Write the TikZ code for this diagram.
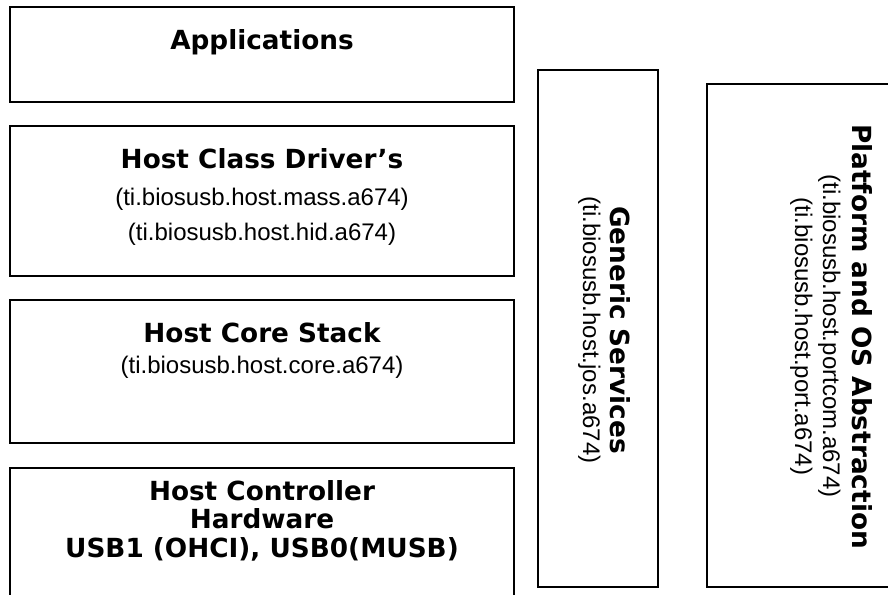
\documentclass[tikz,border=0pt]{standalone}
\usepackage{fontspec}
\setmainfont{Liberation Sans}
\newfontfamily\hfont{DejaVu Sans}
\begin{document}
\begin{tikzpicture}[x=1pt,y=-1pt,
  box/.style={draw, line width=1.8pt, inner sep=0pt, outer sep=0pt, anchor=north west},
  head/.style={font=\hfont\bfseries\fontsize{26.3}{28}\selectfont, anchor=base, inner sep=0pt},
  sub/.style={font=\fontsize{24}{28}\selectfont, anchor=base, inner sep=0pt}]
\useasboundingbox (0,0) rectangle (888,594);
\clip (0,0) rectangle (888,594);
% boxes
\node[box, minimum width=504pt, minimum height=95pt] (app) at (10,7) {};
\node[box, minimum width=504pt, minimum height=150pt] (cls) at (10,126) {};
\node[box, minimum width=504pt, minimum height=143pt] (core) at (10,300) {};
\node[box, minimum width=504pt, minimum height=140pt] (hw) at (10,468) {};
\node[box, minimum width=120pt, minimum height=517pt] (gen) at (538,70) {};
\node[box, minimum width=200pt, minimum height=503pt] (plat) at (707,84) {};
% texts
\node[head] (tapp) at (262,50) {Applications};
\node[head] (tcls) at (262,168) {Host Class Driver’s};
\node[sub] (tmass) at (262,205) {(ti.biosusb.host.mass.a674)};
\node[sub] (thid) at (262,240) {(ti.biosusb.host.hid.a674)};
\node[head] (tcore) at (262,342) {Host Core Stack};
\node[sub] (tcorep) at (262,373) {(ti.biosusb.host.core.a674)};
\node[head] (thw1) at (262,500) {Host Controller};
\node[head] (thw2) at (262,528) {Hardware};
\node[head] (thw3) at (262,557) {USB1 (OHCI), USB0(MUSB)};
\node[head, rotate=-90] (tgen) at (610,330) {Generic Services};
\node[sub, rotate=-90] (tgenp) at (583,330) {(ti.biosusb.host.jos.a674)};
\node[head, rotate=-90] (tplat) at (852,336.5) {Platform and OS Abstraction};
\node[sub, rotate=-90] (tplat1) at (823,336) {(ti.biosusb.host.portcom.a674)};
\node[sub, rotate=-90] (tplat2) at (795,336.5) {(ti.biosusb.host.port.a674)};
\end{tikzpicture}
\end{document}
